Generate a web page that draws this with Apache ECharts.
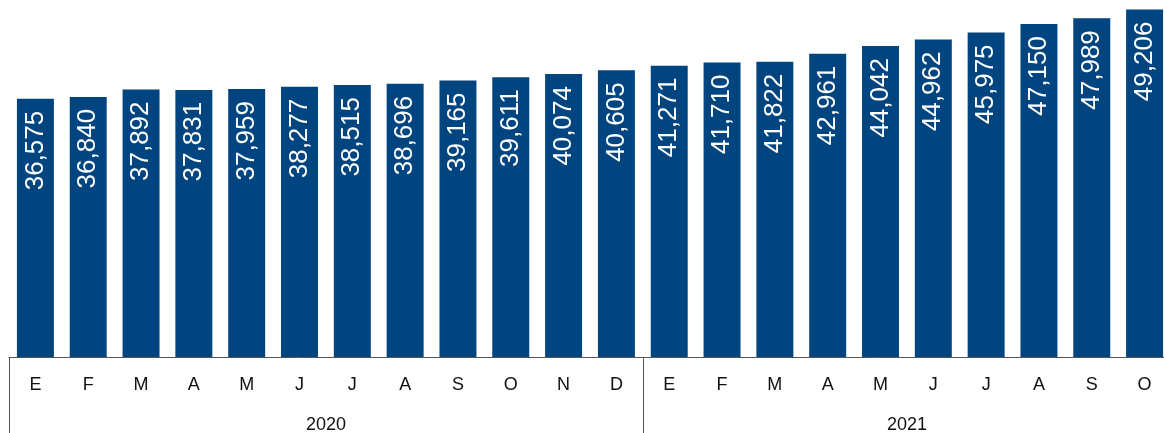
<!DOCTYPE html>
<html>
<head>
<meta charset="utf-8">
<script src="https://cdn.jsdelivr.net/npm/echarts@6/dist/echarts.min.js"></script>
<style>html,body{margin:0;padding:0;background:#fff;}#c{width:1164px;height:433px;}</style>
</head>
<body>
<div id="c"></div>
<script>
const months = ['E','F','M','A','M','J','J','A','S','O','N','D','E','F','M','A','M','J','J','A','S','O'];
const values = [36575,36840,37892,37831,37959,38277,38515,38696,39165,39611,40074,40605,41271,41710,41822,42961,44042,44962,45975,47150,47989,49206];
const years = ['2020','2021'];
const yearStart = [0, 12];
const yearCenters = {6: years[0], 17: years[1]};

const chart = echarts.init(document.getElementById('c'));
chart.setOption({
  animation: false,
  grid: {left: 9, right: -7, top: 4, bottom: 76, containLabel: false, outerBoundsMode: 'none'},
  xAxis: [{
    type: 'category',
    data: months,
    position: 'bottom',
    axisLine: {show: true, lineStyle: {color: '#555', width: 1}},
    axisTick: {show: true, length: 76, lineStyle: {color: '#555', width: 1},
      interval: function (i) { return yearStart.indexOf(i) >= 0; }},
    axisLabel: {color: '#111', fontSize: 18, margin: 19, fontFamily: 'Liberation Sans, Arial, sans-serif', interval: 0}
  }, {
    type: 'value',
    min: 0, max: 22, interval: 1,
    position: 'bottom',
    axisLine: {show: false}, axisTick: {show: false}, splitLine: {show: false},
    axisLabel: {color: '#111', fontSize: 18, margin: 59, fontFamily: 'Liberation Sans, Arial, sans-serif',
      showMinLabel: true, showMaxLabel: true,
      formatter: function (v) { return yearCenters[v] || ''; }}
  }],
  yAxis: {type: 'value', min: 0, max: 50000, show: false, splitLine: {show: false}},
  series: [{
    type: 'bar',
    xAxisIndex: 0,
    data: values,
    barWidth: '70%',
    itemStyle: {color: '#00457f'},
    label: {
      show: true,
      position: 'insideTop',
      rotate: 90,
      align: 'right',
      verticalAlign: 'middle',
      distance: 12,
      color: '#fff',
      fontSize: 26,
      fontFamily: 'Liberation Sans, Arial, sans-serif',
      formatter: function (p) { return p.value.toLocaleString('en-US'); }
    }
  }]
});
</script>
</body>
</html>
